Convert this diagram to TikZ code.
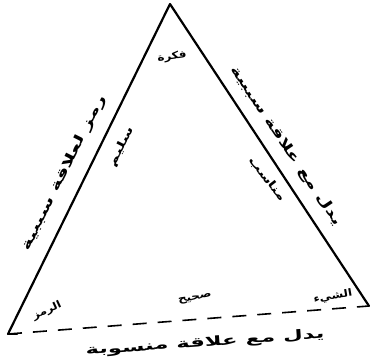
\documentclass[tikz,border=0pt]{standalone}
\usepackage{fontspec}
\newfontfamily\arabicfont[Script=Arabic]{DejaVu Sans}
\TeXXeTstate=1
\newcommand{\ar}[1]{\arabicfont\bfseries\beginR #1\endR}
\tikzset{
  side/.style={line width=2.2pt, line cap=round, line join=round},
  baseline dash/.style={line width=1.6pt, dash pattern=on 14pt off 11pt},
  lbl/.style={inner sep=0pt, font=\arabicfont\fontsize{#1}{#1}\selectfont},
}
\begin{document}
\begin{tikzpicture}[x=1pt,y=-1pt]
\useasboundingbox (0,0) rectangle (372,361);
\coordinate (T) at (170,4);
\coordinate (L) at (8,334);
\coordinate (R) at (369,306);
\draw[side] (L) -- (T) -- (R);
\draw[side] (L) -- ++(9,0);
\draw[baseline dash] (L) -- (R);
% corner labels
\node[lbl=10, rotate=8, xscale=1.2] (top) at (172,57) {\ar{فكرة}};
\node[lbl=10, rotate=25, xscale=1.2] (sym) at (47,311) {\ar{الرمز}};
\node[lbl=10, rotate=10, xscale=1.2] (thing) at (333,297) {\ar{الشيء}};
% side labels
\node[lbl=13, rotate=63.5, xscale=1.6] (lside) at (64,173) {\ar{رمز لعلاقة سببية}};
\node[lbl=11, rotate=63, xscale=1.5] (lin) at (122,147) {\ar{سليم}};
\node[lbl=13, rotate=-56, xscale=1.5] (rside) at (286,146) {\ar{يدل مع علاقة سببية}};
\node[lbl=11, rotate=-52, xscale=1.4] (rin) at (267,179) {\ar{مناسب}};
\node[lbl=10, rotate=10, xscale=1.2] (bin) at (195,299) {\ar{صحيح}};
\node[lbl=13, rotate=4, xscale=1.75] (bside) at (205,343) {\ar{يدل مع علاقة منسوبة}};
\end{tikzpicture}
\end{document}
